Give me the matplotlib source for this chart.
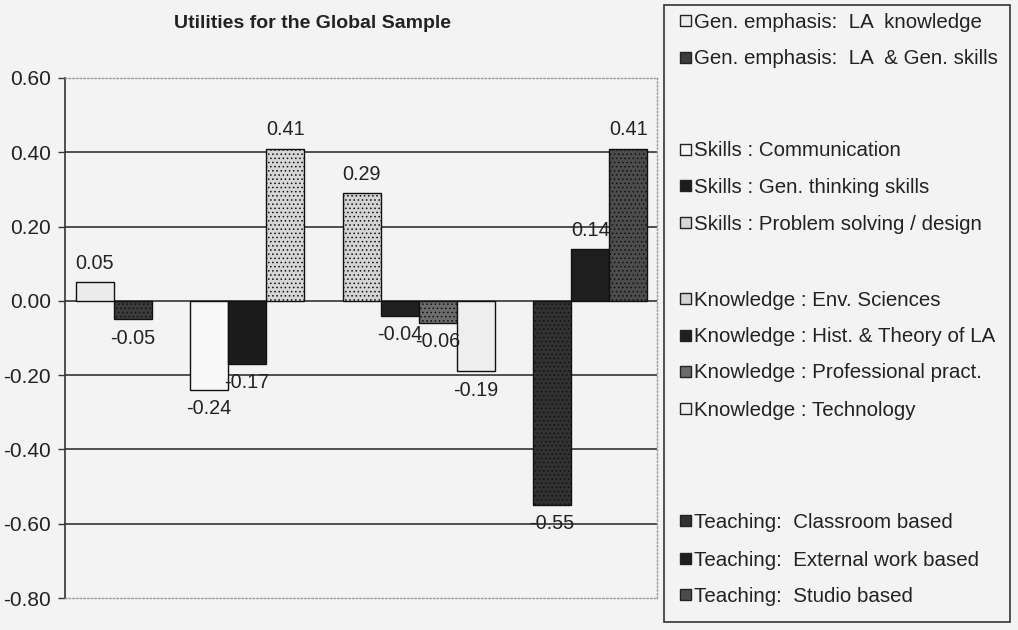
import matplotlib.pyplot as plt
from matplotlib.patches import Rectangle

plt.rcParams['font.family'] = ['Liberation Sans', 'DejaVu Sans']

# series in legend order, None marks a blank spacer series
series_names = [
    "Gen. emphasis:  LA  knowledge",
    "Gen. emphasis:  LA  & Gen. skills",
    None,
    "Skills : Communication",
    "Skills : Gen. thinking skills",
    "Skills : Problem solving / design",
    None,
    "Knowledge : Env. Sciences",
    "Knowledge : Hist. & Theory of LA",
    "Knowledge : Professional pract.",
    "Knowledge : Technology",
    None,
    "Teaching:  Classroom based",
    "Teaching:  External work based",
    "Teaching:  Studio based",
]
series_values = [0.05, -0.05, None, -0.24, -0.17, 0.41, None,
                 0.29, -0.04, -0.06, -0.19, None, -0.55, 0.14, 0.41]
series_colors = ['#ececec', '#3c3c3c', None, '#f8f8f8', '#1c1c1c', '#d6d6d6', None,
                 '#d4d4d4', '#202020', '#6c6c6c', '#eeeeee', None, '#323232', '#1e1e1e', '#4c4c4c']
series_hatch = ['', '....', None, '', '', '....', None,
                '....', '', '....', '', None, '....', '', '....']

# legend row y positions (pixels from top)
legend_rows = [22, 59, None, 151, 187, 224, None, 300, 337, 373, 410, None, 522, 560, 596]

bg = '#f3f3f3'
fig = plt.figure(figsize=(10.18, 6.30), dpi=100, facecolor=bg)
ax = fig.add_axes([65 / 1018, 1 - 598 / 630, 592 / 1018, 520 / 630])
ax.set_facecolor(bg)

plt.rcParams['hatch.linewidth'] = 0.6
for i, (v, c, h) in enumerate(zip(series_values, series_colors, series_hatch)):
    if v is None:
        continue
    plt.rcParams['hatch.color'] = '#aaaaaa' if c in ('#d6d6d6', '#d4d4d4') else '#1a1a1a'
    ax.bar(i, v, width=1.0, color=c, edgecolor='#111111', linewidth=1.0, hatch=h, zorder=3)
    if v >= 0:
        ax.text(i, v + 0.025, f"{v:.2f}", ha='center', va='bottom', fontsize=14.3, color='#222222', zorder=4)
    else:
        ax.text(i, v - 0.025, f"{v:.2f}", ha='center', va='top', fontsize=14.3, color='#222222', zorder=4)

ax.set_xlim(-0.78, 14.75)
ax.set_ylim(-0.8, 0.6)
yt = [0.6, 0.4, 0.2, 0.0, -0.2, -0.4, -0.6, -0.8]
ax.set_yticks(yt)
ax.set_yticklabels([f"{t:.2f}" for t in yt], fontsize=15, color='#222222')
ax.set_xticks([])
for t in [0.4, 0.2, 0.0, -0.2, -0.4, -0.6]:
    ax.axhline(t, color='#333333', linewidth=1.2, zorder=1)
for s in ['top', 'bottom', 'right']:
    ax.spines[s].set_color('#999999')
    ax.spines[s].set_linestyle(':')
    ax.spines[s].set_linewidth(1.0)
ax.spines['left'].set_color('#333333')
ax.spines['left'].set_linewidth(1.2)
ax.tick_params(axis='y', length=5, width=1.0, color='#333333', pad=5)

fig.text(313 / 1018, 1 - 23 / 630, "Utilities for the Global Sample", ha='center', va='center',
         fontsize=14, fontweight='bold', color='#222222')

# legend box
fig.patches.append(Rectangle((664 / 1018, 1 - 622 / 630), 346 / 1018, 617 / 630,
                             transform=fig.transFigure, facecolor=bg, edgecolor='#333333',
                             linewidth=1.2))
for name, y, c in zip(series_names, legend_rows, series_colors):
    if name is None:
        continue
    fig.patches.append(Rectangle((680 / 1018, 1 - (y + 4) / 630), 11 / 1018, 11 / 630,
                                 transform=fig.transFigure, facecolor=c, edgecolor='#222222',
                                 linewidth=1.0))
    fig.text(694 / 1018, 1 - y / 630, name, ha='left', va='center', fontsize=14.8, color='#222222')

fig.savefig('out.png', dpi=100, facecolor=bg)
